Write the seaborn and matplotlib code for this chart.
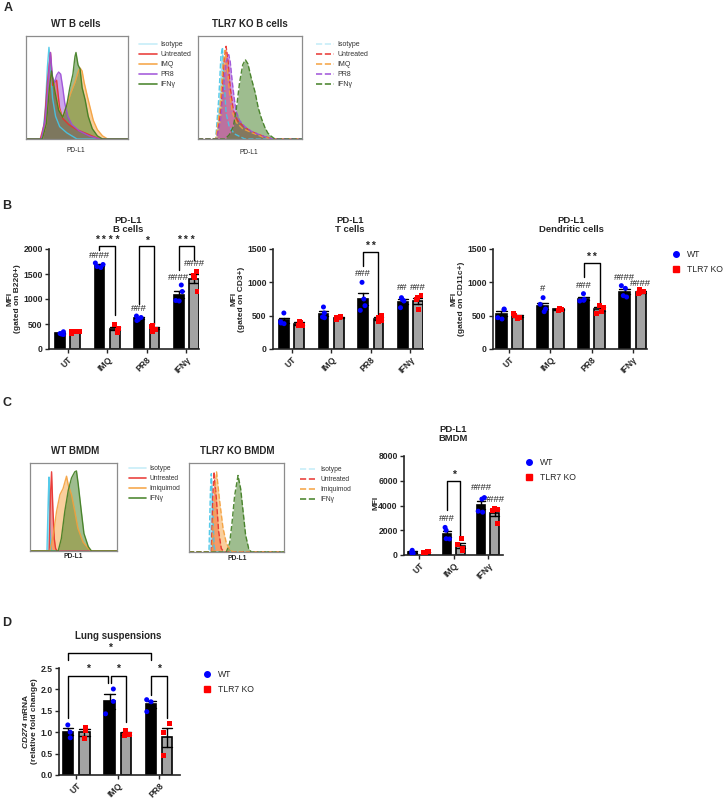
import numpy as np
import pandas as pd
import matplotlib
matplotlib.use("Agg")
import matplotlib.pyplot as plt
from matplotlib.lines import Line2D
import seaborn as sns

W, H = 724, 800

# --- Panel A / C: flow histograms (x and height in % of the plot box) ---
a_labels = ["Isotype", "Untreated", "IMQ", "PR8", "IFNγ"]
a_wt_x = [
    [0, 16, 19, 21, 22.5, 24, 26, 29, 33, 40, 50, 100],
    [0, 14, 18, 21, 24, 26, 28, 30, 33, 36, 42, 50, 60, 72, 100],
    [0, 16, 20, 23, 25, 28, 32, 36, 40, 44, 48, 51, 53, 55, 57, 60, 63, 66, 70, 75, 80, 100],
    [0, 15, 19, 22, 24, 26, 28, 30, 32, 34, 36, 38, 41, 45, 52, 62, 72, 100],
    [0, 16, 20, 23, 25, 28, 32, 36, 40, 43, 46, 48, 49, 51, 53, 55, 58, 61, 65, 70, 75, 100],
]
a_wt_y = [
    [0, 0, 30, 70, 89, 70, 40, 22, 12, 6, 0, 0],
    [0, 0, 15, 55, 84, 52, 55, 57, 30, 20, 14, 9, 5, 0, 0],
    [0, 0, 15, 50, 65, 50, 30, 21, 33, 45, 55, 65, 69, 66, 55, 42, 30, 18, 9, 3, 0, 0],
    [0, 0, 20, 60, 84, 60, 55, 62, 65, 63, 50, 35, 22, 14, 8, 3, 0, 0],
    [0, 0, 15, 50, 66, 48, 28, 21, 33, 50, 63, 80, 84, 72, 68, 50, 38, 22, 10, 3, 0, 0],
]
a_ko_x = [
    [0, 17, 20, 22, 23.5, 25, 27, 30, 35, 45, 100],
    [0, 18, 22, 25, 27, 29, 31, 34, 38, 44, 52, 62, 72, 100],
    [0, 17, 21, 24, 26, 28, 30, 33, 37, 43, 52, 62, 72, 100],
    [0, 18, 22, 25, 27, 29.5, 31, 33, 35, 37, 40, 45, 52, 62, 72, 100],
    [0, 26, 30, 34, 37, 40, 43, 45.5, 48, 51, 55, 58, 61, 64, 67, 70, 74, 100],
]
a_ko_y = [
    [0, 0, 40, 80, 89, 60, 25, 12, 5, 0, 0],
    [0, 0, 30, 75, 90, 75, 50, 28, 18, 12, 7, 3, 0, 0],
    [0, 0, 30, 72, 86, 72, 48, 26, 16, 10, 6, 2, 0, 0],
    [0, 0, 20, 55, 75, 82, 75, 55, 38, 26, 18, 12, 7, 3, 0, 0],
    [0, 0, 4, 12, 30, 55, 72, 77, 73, 60, 45, 30, 20, 12, 6, 3, 0, 0],
]
c_labels = ["Isotype", "Untreated", "Imiquimod", "IFNγ"]
c_wt_x = [
    [0, 19.5, 21, 21.8, 23, 24.5, 100],
    [0, 22, 23.7, 24.8, 26.3, 27.9, 29.4, 31, 100],
    [0, 23, 26.7, 30.5, 34.4, 38, 42, 44, 47.7, 51.5, 55, 61, 67, 70.6, 100],
    [0, 32.4, 36, 40, 44, 47.7, 51.5, 53.4, 55.3, 59, 62, 67, 70.6, 100],
]
c_wt_y = [
    [0, 0, 60, 84, 25, 0, 0],
    [0, 0, 68, 90, 48, 14, 3, 0, 0],
    [0, 0, 18, 45, 64, 71, 85, 75, 64, 45, 26, 10, 3, 0, 0],
    [0, 0, 14, 45, 69, 83, 90, 91, 77, 45, 20, 5, 0, 0],
]
c_ko_x = [
    [0, 21, 22.5, 23.5, 25, 26.3, 27.7, 100],
    [0, 23.5, 25, 26.3, 28.8, 31.2, 34, 36.8, 100],
    [0, 24.2, 27, 29, 32.3, 35.8, 39.3, 42.8, 46.3, 100],
    [0, 39.3, 42.8, 45.3, 48, 51.6, 54.4, 57, 59.6, 62.8, 65.6, 100],
]
c_ko_y = [
    [0, 0, 68, 88, 50, 8, 0, 0],
    [0, 0, 60, 90, 60, 23, 4, 0, 0],
    [0, 0, 68, 90, 57, 27, 10, 3, 0, 0],
    [0, 0, 10, 33, 63, 86, 71, 45, 19, 4, 0, 0],
]
hist_colors = ["#45c6e8", "#e8302c", "#f5a03c", "#9d4fd8", "#3f7d20"]
c_hist_colors = ["#45c6e8", "#e8302c", "#f5a03c", "#3f7d20"]

# --- Panel B: PD-L1 MFI per mouse ---
groups_b = ["UT", "IMQ", "PR8", "IFNγ"]
bcell_wt = [[290, 310, 345, 300], [1630, 1650, 1690, 1720], [570, 590, 630, 660], [1280, 1150, 970, 960]]
bcell_ko = [[310, 345, 360, 350], [490, 420, 380, 330], [480, 450, 400, 350], [1560, 1480, 1430, 1150]]
tcell_wt = [[540, 410, 390, 380], [630, 540, 480, 470], [1000, 750, 650, 580], [770, 740, 720, 620]]
tcell_ko = [[420, 400, 360, 350], [490, 480, 470, 450], [500, 480, 430, 420], [800, 770, 740, 590]]
dc_wt = [[590, 600, 450, 470], [770, 670, 560, 600], [830, 745, 720, 730], [950, 910, 800, 780]]
dc_ko = [[530, 500, 480, 460], [610, 600, 580, 590], [660, 620, 570, 530], [890, 870, 850, 830]]

# --- Panel C: BMDM ---
groups_c = ["UT", "IMQ", "IFNγ"]
bmdm_wt = [[380, 250, 150, 120], [2230, 2000, 1320, 1300], [4640, 4520, 3540, 3460]]
bmdm_ko = [[300, 260, 200, 180], [1300, 830, 500, 380], [3750, 3700, 3600, 2550]]

# --- Panel D: lung CD274 mRNA ---
groups_d = ["UT", "IMQ", "PR8"]
lung_wt = [[1.17, 0.87, 1.0], [2.01, 1.72, 1.43], [1.76, 1.71, 1.48]]
lung_ko = [[1.1, 0.85, 1.03], [1.05, 0.92, 0.95], [1.2, 1.0, 0.46]]

genos = ["WT", "TLR7 KO"]
geno_fill = {"WT": "black", "TLR7 KO": "#a3a3a3"}
geno_dot = {"WT": "#0000ff", "TLR7 KO": "#ff0000"}
DODGE = 0.195

sns.set_style("ticks")
plt.rcParams["font.family"] = ["Liberation Sans", "DejaVu Sans"]
plt.rcParams["mathtext.fontset"] = "custom"
plt.rcParams["mathtext.bfit"] = "Liberation Sans:italic:bold"
plt.rcParams["mathtext.rm"] = "Liberation Sans"
np.random.seed(4)  # fixed jitter of the dots

fig = plt.figure(figsize=(W / 100, H / 100), dpi=100)


def add_ax(l, t, r, b):
    return fig.add_axes([l / W, 1 - b / H, (r - l) / W, (b - t) / H])


def ftext(px, py, s, **kw):
    kw.setdefault("ha", "center")
    kw.setdefault("va", "center")
    fig.text(px / W, 1 - py / H, s, **kw)


def hist_panel(box, xs, ys, labels, colors, dashed, title, tpos, lab_pos, leg_pos,
               leg_fs, bold_lab=False):
    ax = add_ax(*box)
    ls = "--" if dashed else "-"
    for x, y, c in zip(xs, ys, colors):
        ax.fill_between(x, y, color=c, alpha=0.5, lw=0)
        ax.plot(x, y, color=c, lw=1.0, ls=ls, alpha=0.9)
    ax.set_xlim(0, 100)
    ax.set_ylim(0, 100)
    ax.set_xticks([])
    ax.set_yticks([])
    for sp in ax.spines.values():
        sp.set_visible(True)
        sp.set_color("#8c8c8c")
        sp.set_linewidth(0.9)
    ftext(*tpos, title, fontsize=7, fontweight="bold")
    ftext(*lab_pos, "PD-L1", fontsize=4.8, fontweight="bold" if bold_lab else "normal")
    handles = []
    for lab, c in zip(labels, colors):
        alpha = 0.3 if lab == "Isotype" else 0.9
        handles.append(Line2D([], [], color=c, lw=1.2, ls=ls, alpha=alpha))
    fig.legend(handles, labels, loc="upper left",
               bbox_to_anchor=(leg_pos[0] / W, 1 - leg_pos[1] / H),
               frameon=False, fontsize=leg_fs, handlelength=2.6, handletextpad=0.5,
               labelspacing=0.45, borderpad=0, borderaxespad=0, labelcolor="#333333")


def bar_panel(box, groups, wt, ko, ymax, step, xlim, fmt="{:.0f}"):
    ax = add_ax(*box)
    rows = []
    for g, w, k in zip(groups, wt, ko):
        rows += [(g, "WT", v) for v in w]
        rows += [(g, "TLR7 KO", v) for v in k]
    df = pd.DataFrame(rows, columns=["group", "geno", "value"])
    sns.barplot(data=df, x="group", y="value", hue="geno", order=groups, hue_order=genos,
                palette=geno_fill, width=0.78, gap=0.36, errorbar="se", capsize=0.5,
                err_kws={"color": "black", "linewidth": 1.0}, edgecolor="black",
                linewidth=1.2, saturation=1, legend=False, ax=ax)
    for geno, mk in zip(genos, ["o", "s"]):
        sns.stripplot(data=df[df["geno"] == geno], x="group", y="value", hue="geno",
                      order=groups, hue_order=genos, palette=geno_dot, marker=mk,
                      size=3.6, dodge=True, jitter=0.2, linewidth=0, legend=False,
                      ax=ax, zorder=4)
    ax.set_xlim(*xlim)
    ax.set_ylim(0, ymax)
    ticks = np.arange(0, ymax + step / 2, step)
    ax.set_yticks(ticks)
    ax.set_yticklabels([fmt.format(t) for t in ticks])
    ax.set_xlabel("")
    ax.set_ylabel("")
    sns.despine(ax=ax)
    for sp in ["left", "bottom"]:
        ax.spines[sp].set_linewidth(1.2)
    ax.tick_params(direction="out", length=3, width=1, labelsize=6.2, pad=1.5)
    for t in ax.get_yticklabels() + ax.get_xticklabels():
        t.set_fontweight("bold")
    for t in ax.get_xticklabels():
        t.set_rotation(45)
        t.set_ha("right")
        t.set_rotation_mode("anchor")
    return ax


def hashes(ax, items):
    for text, gi, side, y in items:
        ax.text(gi + side * DODGE, y, text, ha="center", va="center", fontsize=6.8,
                clip_on=False)


def bracket(ax, xa, ya, xb, yb, top, star, star_y):
    ax.plot([xa, xa, xb, xb], [ya, top, top, yb], color="black", lw=1.0, clip_on=False)
    ax.text((xa + xb) / 2, star_y, star, ha="center", va="center", fontsize=7.5,
            fontweight="bold", clip_on=False)


def legend_geno(x, y):
    handles = [Line2D([], [], marker="o", color=geno_dot["WT"], ls="none", markersize=4),
               Line2D([], [], marker="s", color=geno_dot["TLR7 KO"], ls="none", markersize=4)]
    fig.legend(handles, genos, loc="upper left", bbox_to_anchor=(x / W, 1 - y / H),
               frameon=False, fontsize=6.2, handlelength=1, handletextpad=0.7,
               labelspacing=0.75, borderpad=0, borderaxespad=0)


# --- panel letters ---
for letter, (px, py) in zip("ABCD", [(8, 8), (7, 206), (7, 403), (7, 623)]):
    ftext(px, py, letter, fontsize=9, fontweight="bold")

# --- A ---
hist_panel((26, 36, 128, 139), a_wt_x, a_wt_y, a_labels, hist_colors, False,
           "WT B cells", (76, 24), (76, 151), (139, 41), 5)
hist_panel((198, 36, 302, 139), a_ko_x, a_ko_y, a_labels, hist_colors, True,
           "TLR7 KO B cells", (250, 24), (249, 152), (316, 41), 5)

# --- B ---
L, R = -1, 1
ax = bar_panel((49, 249, 199, 349), groups_b, bcell_wt, bcell_ko, 2000, 500, (-0.47, 3.32))
hashes(ax, [("####", 1, L, 1873), ("###", 2, L, 807), ("####", 3, L, 1427), ("####", 3, R, 1707)])
bracket(ax, 1 - DODGE, 1987, 1 + DODGE, 673, 2067, "* * * *", 2173)
bracket(ax, 2 - DODGE, 907, 2 + DODGE, 507, 2067, "*", 2173)
bracket(ax, 3 - DODGE, 1573, 3 + DODGE, 1773, 2067, "* * *", 2173)
ftext(128, 225, "PD-L1\nB cells", fontsize=6.8, fontweight="bold", linespacing=1.1)
ftext(14, 299, "MFI\n(gated on B220+)", fontsize=6, fontweight="bold", rotation=90, linespacing=1.1)

ax = bar_panel((273, 249, 423, 349), groups_b, tcell_wt, tcell_ko, 1500, 500, (-0.47, 3.32))
hashes(ax, [("###", 2, L, 1130), ("##", 3, L, 915), ("###", 3, R, 930)])
bracket(ax, 2 - DODGE, 1240, 2 + DODGE, 530, 1450, "* *", 1550)
ftext(350, 225, "PD-L1\nT cells", fontsize=6.8, fontweight="bold", linespacing=1.1)
ftext(238, 299, "MFI\n(gated on CD3+)", fontsize=6, fontweight="bold", rotation=90, linespacing=1.1)

ax = bar_panel((493, 249, 647, 349), groups_b, dc_wt, dc_ko, 1500, 500, (-0.4, 3.35))
hashes(ax, [("#", 1, L, 905), ("###", 2, L, 945), ("####", 3, L, 1070), ("####", 3, R, 990)])
bracket(ax, 2 - DODGE, 1080, 2 + DODGE, 655, 1290, "* *", 1380)
ftext(571, 225, "PD-L1\nDendritic cells", fontsize=6.8, fontweight="bold", linespacing=1.1)
ftext(458, 299, "MFI\n(gated on CD11c+)", fontsize=6, fontweight="bold", rotation=90, linespacing=1.1)
legend_geno(672, 250)

# --- C ---
hist_panel((30, 463, 117, 551), c_wt_x, c_wt_y, c_labels, c_hist_colors, False,
           "WT BMDM", (75, 451), (73, 557), (129, 465), 4.8, True)
hist_panel((189, 463, 284, 552), c_ko_x, c_ko_y, c_labels, c_hist_colors, True,
           "TLR7 KO BMDM", (237, 451), (237, 558), (300, 466), 4.8, True)

ax = bar_panel((404, 456, 503, 555), groups_c, bmdm_wt, bmdm_ko, 8000, 2000, (-0.445, 2.44))
hashes(ax, [("###", 1, L, 2980), ("####", 2, L, 5450), ("####", 2, R, 4500)])
bracket(ax, 1 - DODGE, 3650, 1 + DODGE, 1420, 5990, "*", 6470)
ftext(453, 434, "PD-L1\nBMDM", fontsize=6.8, fontweight="bold", linespacing=1.1)
ftext(376, 503, "MFI", fontsize=6, fontweight="bold", rotation=90)
legend_geno(525, 458)

# --- D ---
ax = bar_panel((59, 668, 180, 775), groups_d, lung_wt, lung_ko, 2.5, 0.5, (-0.42, 2.51), "{:.1f}")
bracket(ax, 0 - DODGE, 2.69, 2 - DODGE, 2.69, 2.86, "*", 2.97)
bracket(ax, 0 - DODGE, 1.33, 1 - DODGE - 0.03, 2.15, 2.31, "*", 2.48)
bracket(ax, 1 - DODGE + 0.03, 2.15, 1 + DODGE, 1.25, 2.31, "*", 2.48)
bracket(ax, 2 - DODGE, 1.87, 2 + DODGE, 1.33, 2.31, "*", 2.48)
ftext(118, 636, "Lung suspensions", fontsize=7, fontweight="bold")
ftext(25, 721, r"$\mathbfit{CD274}$ mRNA", fontsize=6, fontweight="bold", rotation=90)
ftext(35, 721, "(relative fold change)", fontsize=6, fontweight="bold", rotation=90)
legend_geno(203, 670)

fig.savefig("out.png", dpi=100)
